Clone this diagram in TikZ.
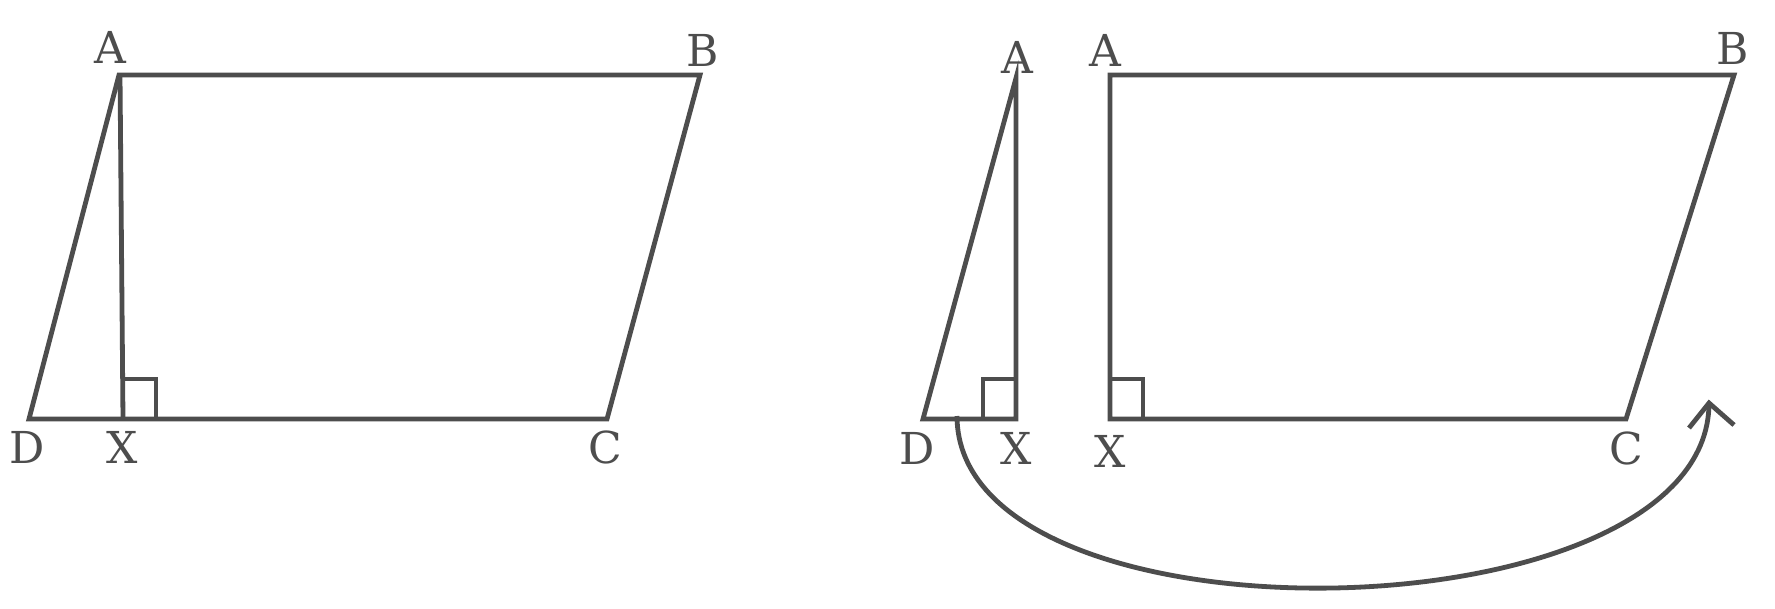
\documentclass[tikz,border=0pt]{standalone}
\usepackage{fontspec}
\setmainfont{DejaVu Serif}
\definecolor{ink}{HTML}{4D4D4D}
\begin{document}
\begin{tikzpicture}[x=0.75pt,y=-0.75pt,
  shape line/.style={draw=ink,line width=3.6pt,line join=miter},
  lbl/.style={text=ink,inner sep=0pt,font=\fontsize{33}{36}\selectfont}]
\useasboundingbox[fill=white] (0,0) rectangle (1775,608);
% ---------- left figure ----------
\coordinate (D1) at (29,419);
\coordinate (A1) at (119,75);
\coordinate (B1) at (700,75);
\coordinate (C1) at (607,419);
\coordinate (H1) at (120,75);
\coordinate (X1) at (123,419);
\draw[shape line] (A1)--(B1)--(C1)--(D1)--cycle;
\draw[shape line] (H1)--(X1);
\draw[shape line] (123,379)--(156,379)--(156,419);
\node[lbl] (lA1) at (110,47) {A};
\node[lbl] (lB1) at (703,50) {B};
\node[lbl] (lC1) at (605,447) {C};
\node[lbl] (lD1) at (27,447) {D};
\node[lbl] (lX1) at (122,447) {X};
% ---------- right figure: triangle ----------
\coordinate (D2) at (923,419);
\coordinate (A2) at (1016,78);
\coordinate (X2) at (1016,419);
\draw[shape line] (A2)--(X2)--(D2)--cycle;
\draw[shape line] (1016,379)--(983,379)--(983,419);
\node[lbl] (lA2) at (1017,57) {A};
\node[lbl] (lD2) at (917,448) {D};
\node[lbl] (lX2) at (1016,448) {X};
% ---------- right figure: trapezium ----------
\coordinate (X3) at (1110,419);
\coordinate (A3) at (1110,75);
\coordinate (B3) at (1734,75);
\coordinate (C3) at (1626,419);
\draw[shape line] (X3)--(A3)--(B3)--(C3)--cycle;
\draw[shape line] (1110,379)--(1143,379)--(1143,419);
\node[lbl] (lA3) at (1105,50) {A};
\node[lbl] (lB3) at (1733,48) {B};
\node[lbl] (lC3) at (1626,448) {C};
\node[lbl] (lX3) at (1110,451) {X};
% ---------- moving arrow ----------
\coordinate (S) at (957,416);
\coordinate (T) at (1709,403);
\coordinate (WL) at (1689,428);
\coordinate (WR) at (1734,425);
\draw[draw=ink,line width=3.6pt] (S) .. controls (957,654) and (1709,641) .. (T);
\draw[shape line] (WL)--(T)--(WR);
\end{tikzpicture}
\end{document}
